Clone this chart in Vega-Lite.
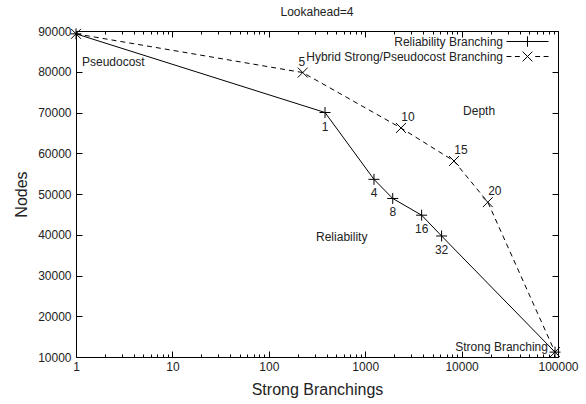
{
  "$schema": "https://vega.github.io/schema/vega-lite/v6.json",
  "width": 482,
  "height": 326,
  "autosize": {"type": "none"},
  "padding": {"left": 76, "top": 31, "right": 28, "bottom": 47},
  "background": "white",
  "title": {"text": "Lookahead=4", "fontSize": 12, "fontWeight": "normal", "font": "Liberation Sans", "color": "#222", "offset": 6},
  "config": {
    "view": {"stroke": "black", "strokeWidth": 1},
    "axis": {"domain": false, "grid": false, "labelFont": "Liberation Sans", "labelFontSize": 12, "labelColor": "#222", "titleFont": "Liberation Sans", "titleFontSize": 16, "titleFontWeight": "normal", "titleColor": "#222", "tickColor": "black"},
    "text": {"font": "Liberation Sans", "fontSize": 12, "color": "#222"}
  },
  "datasets": {
    "pts": [
      {"series": "Reliability Branching", "x": 1, "y": 89300, "label": ""},
      {"series": "Reliability Branching", "x": 383, "y": 70000, "label": "1"},
      {"series": "Reliability Branching", "x": 1233, "y": 53600, "label": "4"},
      {"series": "Reliability Branching", "x": 1930, "y": 48900, "label": "8"},
      {"series": "Reliability Branching", "x": 3850, "y": 44800, "label": "16"},
      {"series": "Reliability Branching", "x": 6200, "y": 39700, "label": "32"},
      {"series": "Reliability Branching", "x": 93100, "y": 11200, "label": ""},
      {"series": "Hybrid Strong/Pseudocost Branching", "x": 1, "y": 89300, "label": ""},
      {"series": "Hybrid Strong/Pseudocost Branching", "x": 225, "y": 79800, "label": "5"},
      {"series": "Hybrid Strong/Pseudocost Branching", "x": 2350, "y": 66200, "label": "10"},
      {"series": "Hybrid Strong/Pseudocost Branching", "x": 8340, "y": 58100, "label": "15"},
      {"series": "Hybrid Strong/Pseudocost Branching", "x": 18700, "y": 48000, "label": "20"},
      {"series": "Hybrid Strong/Pseudocost Branching", "x": 93100, "y": 11200, "label": ""}
    ],
    "notes": [
      {"text": "Pseudocost", "x": 1.154, "y": 82400},
      {"text": "Reliability", "x": 309, "y": 39500},
      {"text": "Depth", "x": 10350, "y": 70400}
    ],
    "notesRight": [
      {"text": "Strong Branching", "x": 78700, "y": 12500}
    ]
  },
  "layer": [
    {
      "data": {"name": "pts"},
      "transform": [{"filter": "datum.series === 'Reliability Branching'"}],
      "mark": {"type": "line", "stroke": "black", "strokeWidth": 1},
      "encoding": {
        "x": {"field": "x", "type": "quantitative", "scale": {"type": "log", "domain": [1, 100000], "nice": false},
          "axis": {"orient": "bottom", "values": [1, 10, 100, 1000, 10000, 100000], "format": "d", "tickSize": -6, "labelPadding": 10, "labelFlush": false, "labelOverlap": false, "title": "Strong Branchings", "titlePadding": 9}},
        "y": {"field": "y", "type": "quantitative", "scale": {"domain": [10000, 90000], "nice": false, "zero": false},
          "axis": {"orient": "left", "values": [10000, 20000, 30000, 40000, 50000, 60000, 70000, 80000, 90000], "format": "d", "tickSize": -6, "labelPadding": 11, "labelOverlap": false, "title": "Nodes", "titlePadding": 8}},
        "order": {"field": "x", "type": "quantitative"}
      }
    },
    {
      "data": {"name": "pts"},
      "transform": [{"filter": "datum.series !== 'Reliability Branching'"}],
      "mark": {"type": "line", "stroke": "black", "strokeWidth": 1, "strokeDash": [5, 4]},
      "encoding": {
        "x": {"field": "x", "type": "quantitative", "axis": null},
        "y": {"field": "y", "type": "quantitative", "axis": null},
        "order": {"field": "x", "type": "quantitative"}
      }
    },
    {
      "data": {"name": "pts"},
      "mark": {"type": "point", "filled": false, "color": "black", "strokeWidth": 1, "size": 121, "opacity": 1},
      "encoding": {
        "x": {"field": "x", "type": "quantitative", "axis": {"orient": "top", "values": [1, 10, 100, 1000, 10000, 100000], "tickSize": -6, "labels": false, "title": null}},
        "y": {"field": "y", "type": "quantitative", "axis": {"orient": "right", "values": [10000, 20000, 30000, 40000, 50000, 60000, 70000, 80000, 90000], "tickSize": -6, "labels": false, "title": null}},
        "shape": {"field": "series", "type": "nominal",
          "scale": {"domain": ["Reliability Branching", "Hybrid Strong/Pseudocost Branching"], "range": ["M-1,0H1M0,-1V1", "M-0.9,-0.9L0.9,0.9M-0.9,0.9L0.9,-0.9"]},
          "legend": null
        }
      }
    },
    {
      "data": {"name": "pts"},
      "transform": [{"filter": "false"}],
      "mark": {"type": "point", "filled": false, "color": "black", "strokeWidth": 1, "opacity": 1},
      "encoding": {
        "x": {"field": "x", "type": "quantitative", "axis": null},
        "y": {"field": "y", "type": "quantitative", "axis": null},
        "shape": {"field": "series", "type": "nominal",
          "scale": {"domain": ["Reliability Branching", "Hybrid Strong/Pseudocost Branching"], "range": ["M-3,0H3M0,-0.75V0.75", "M-3,0H-2.3M-1.8,0H-1.1M-0.7,-0.7L0.7,0.7M-0.7,0.7L0.7,-0.7M1.1,0H1.8M2.3,0H3"]},
          "legend": {"title": null, "orient": "none", "legendX": 444, "legendY": 3, "symbolSize": 196, "symbolStrokeColor": "black", "symbolStrokeWidth": 1, "symbolFillColor": "transparent", "symbolOpacity": 1, "labelAlign": "right", "labelOffset": -32, "labelLimit": 300, "labelFont": "Liberation Sans", "labelFontSize": 12, "labelColor": "#222", "padding": 0, "rowPadding": -2}
        }
      }
    },
    {
      "data": {"name": "pts"},
      "transform": [{"filter": "datum.series === 'Reliability Branching' && datum.label !== ''"}],
      "mark": {"type": "text", "dy": 14},
      "encoding": {
        "x": {"field": "x", "type": "quantitative", "axis": {"orient": "bottom", "values": [2,3,4,5,6,7,8,9,20,30,40,50,60,70,80,90,200,300,400,500,600,700,800,900,2000,3000,4000,5000,6000,7000,8000,9000,20000,30000,40000,50000,60000,70000,80000,90000], "tickSize": -3, "labels": false, "title": null}},
        "y": {"field": "y", "type": "quantitative", "axis": null},
        "text": {"field": "label"}
      }
    },
    {
      "data": {"name": "pts"},
      "transform": [{"filter": "datum.series !== 'Reliability Branching' && datum.label !== '' && datum.label !== '5'"}],
      "mark": {"type": "text", "dx": 7, "dy": -11},
      "encoding": {
        "x": {"field": "x", "type": "quantitative", "axis": {"orient": "top", "values": [2,3,4,5,6,7,8,9,20,30,40,50,60,70,80,90,200,300,400,500,600,700,800,900,2000,3000,4000,5000,6000,7000,8000,9000,20000,30000,40000,50000,60000,70000,80000,90000], "tickSize": -3, "labels": false, "title": null}},
        "y": {"field": "y", "type": "quantitative", "axis": null},
        "text": {"field": "label"}
      }
    },
    {
      "data": {"name": "pts"},
      "transform": [{"filter": "datum.label === '5'"}],
      "mark": {"type": "text", "dx": -1, "dy": -11},
      "encoding": {
        "x": {"field": "x", "type": "quantitative", "axis": null},
        "y": {"field": "y", "type": "quantitative", "axis": null},
        "text": {"field": "label"}
      }
    },
    {
      "data": {"name": "notes"},
      "mark": {"type": "text", "align": "left", "baseline": "middle"},
      "encoding": {
        "x": {"field": "x", "type": "quantitative", "axis": null},
        "y": {"field": "y", "type": "quantitative", "axis": null},
        "text": {"field": "text"}
      }
    },
    {
      "data": {"name": "notesRight"},
      "mark": {"type": "text", "align": "right", "baseline": "middle"},
      "encoding": {
        "x": {"field": "x", "type": "quantitative", "axis": null},
        "y": {"field": "y", "type": "quantitative", "axis": null},
        "text": {"field": "text"}
      }
    }
  ],
  "resolve": {"axis": {"x": "independent", "y": "independent"}, "scale": {"shape": "independent"}}
}
